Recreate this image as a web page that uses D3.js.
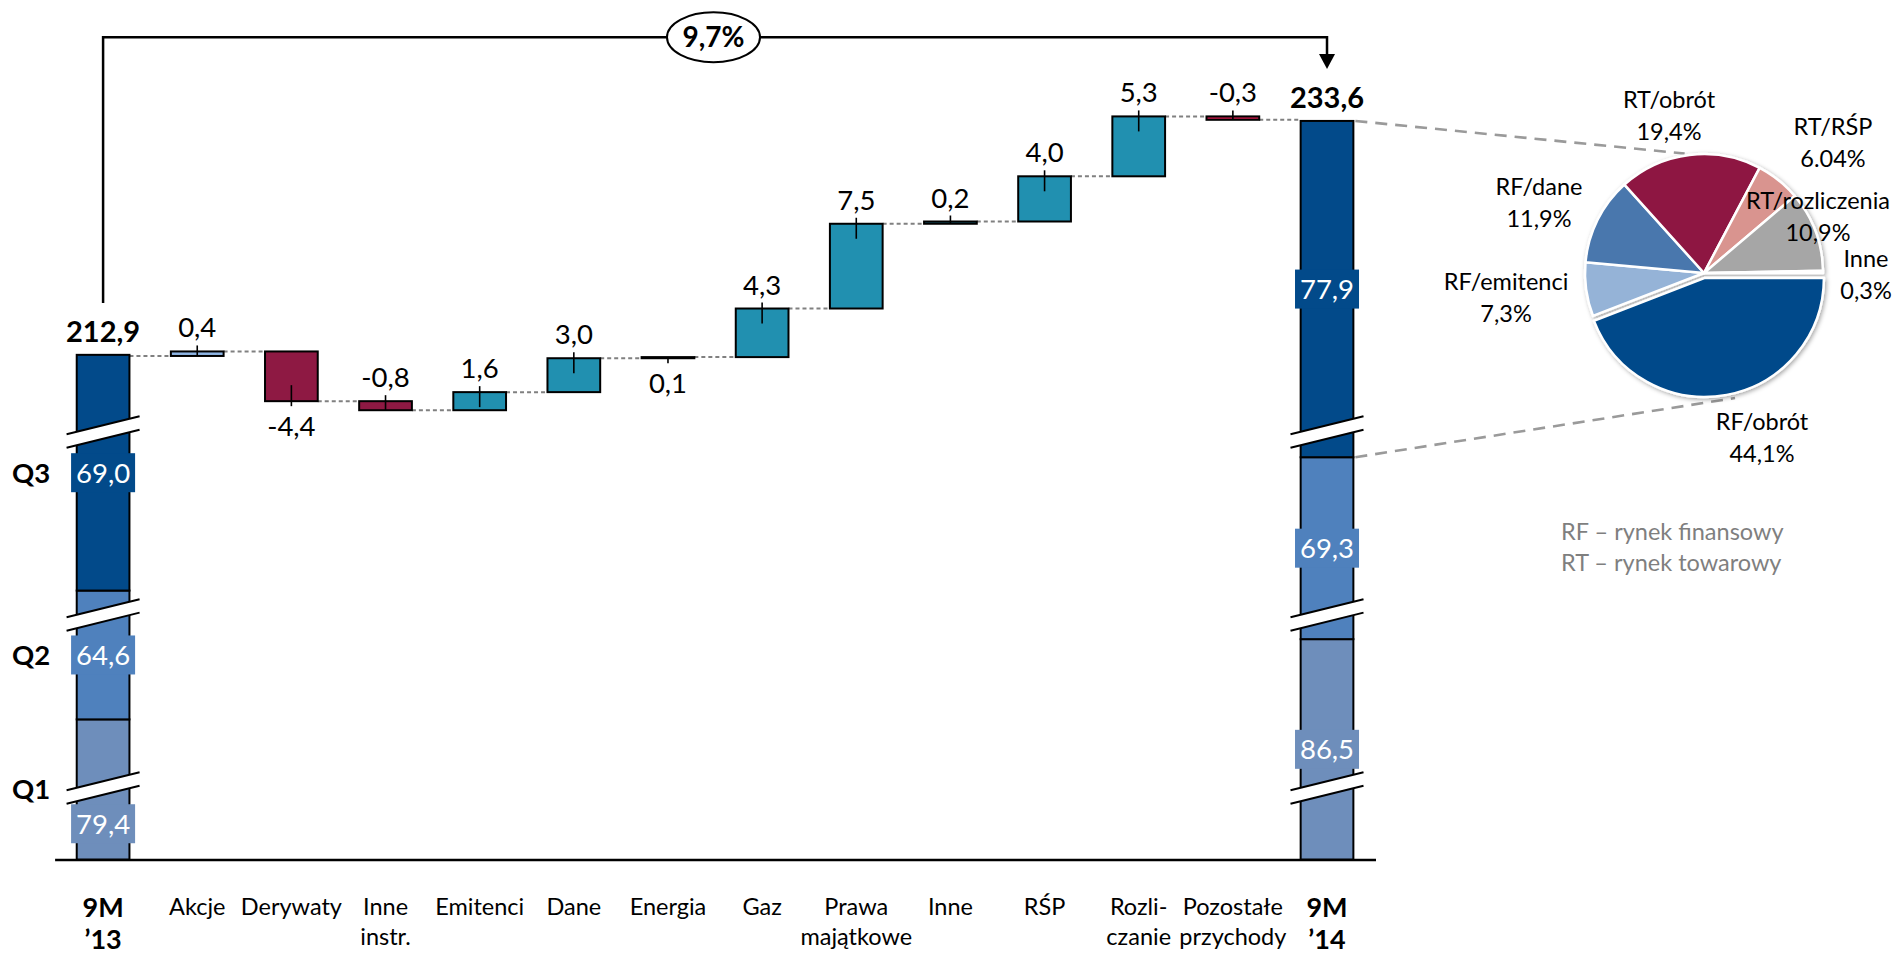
<!DOCTYPE html>
<html>
<head>
<meta charset="utf-8">
<script src="https://cdn.jsdelivr.net/npm/d3@7"></script>
<style>
  html, body { margin: 0; padding: 0; background: #fff; }
  svg { display: block; font-family: Lato, "Open Sans", "DejaVu Sans", sans-serif; }
</style>
</head>
<body>
<svg id="chart" width="1897" height="957"></svg>
<script>
// ---- data ---------------------------------------------------------------
// x-axis categories (line breaks split the label into rows)
const categories = ["9M\n’13", "Akcje", "Derywaty", "Inne\ninstr.", "Emitenci", "Dane", "Energia",
  "Gaz", "Prawa\nmajątkowe", "Inne", "RŚP", "Rozli-\nczanie", "Pozostałe\nprzychody", "9M\n’14"];

// year-on-year change of revenue per line of business (PLN m)
const deltaValues = [0.4, -4.4, -0.8, 1.6, 3.0, 0.1, 4.3, 7.5, 0.2, 4.0, 5.3, -0.3];
const deltaLabelSide = ["above", "below", "above", "above", "above", "below", "above",
  "above", "above", "above", "above", "above"];
const deltaColors = ["#8EB4E3", "#8E1943", "#8E1943", "#2190B0", "#2190B0", "#2190B0", "#2190B0",
  "#2190B0", "#2190B0", "#2190B0", "#2190B0", "#C21A48"];

// nine-month totals and their quarterly split
const totals = [212.9, 233.6];
const quarterNames = ["Q1", "Q2", "Q3"];
const quarters2013 = [79.4, 64.6, 69.0];
const quarters2014 = [86.5, 69.3, 77.9];
const quarterColors = ["#6E8EBB", "#4F81BD", "#024A8A"];

// amount of each quarter hidden by the axis break, and where the break marks sit
const breakCuts = [67.0, 53.2, 48.14];
const breakLevels = [6.33, 21.64, 37.83];

// revenue structure 9M '14
const pieNames = ["RF/obrót", "RF/emitenci", "RF/dane", "RT/obrót", "RT/RŚP", "RT/rozliczenia", "Inne"];
const pieValues = [44.1, 7.3, 11.9, 19.4, 6.04, 10.9, 0.3];
const pieValueLabels = ["44,1%", "7,3%", "11,9%", "19,4%", "6.04%", "10,9%", "0,3%"];
const pieColors = ["#024A8A", "#95B3D7", "#4A77AD", "#8E1742", "#D9948F", "#A6A6A6", "#D9D9D9"];

const legendLines = ["RF – rynek finansowy", "RT – rynek towarowy"];

// ---- setup ----------------------------------------------------------------
const svg = d3.select("#chart");
const fmt = d3.formatLocale({ decimal: ",", thousands: "\u00a0", grouping: [3], currency: ["", ""], minus: "-" });
const f1 = fmt.format(".1f");

const baselineY = 859.5;
const unitPx = 11.3;
const cutTotal = d3.sum(breakCuts);

const x = d3.scaleBand().domain(categories).range([54.6, 1375.5]).paddingInner(0.44).paddingOuter(0.235);
const bw = x.bandwidth();
const cx = c => x(c) + bw / 2;

// display scale (after removing the broken parts of the axis)
const y = d3.scaleLinear().domain([0, 70]).range([baselineY, baselineY - 70 * unitPx]);
const yv = v => y(v - cutTotal);

const first = categories[0], last = categories[categories.length - 1];

// ---- axis -----------------------------------------------------------------
const axis = svg.append("g")
  .attr("transform", `translate(0,${baselineY})`)
  .call(d3.axisBottom(x).tickSize(0).tickSizeOuter(0).tickFormat(""));
axis.select(".domain").attr("stroke", "#000").attr("stroke-width", 2.5);

categories.forEach((c, i) => {
  const isEnd = i === 0 || i === categories.length - 1;
  const lines = c.split("\n");
  const t = svg.append("text")
    .attr("text-anchor", "middle")
    .attr("font-size", isEnd ? 27 : 23.5)
    .attr("font-weight", isEnd ? 700 : 400)
    .attr("fill", "#000");
  lines.forEach((ln, j) => {
    t.append("tspan").attr("x", cx(c))
      .attr("y", (isEnd ? 917 : 915) + j * (isEnd ? 32 : 30))
      .text(ln);
  });
});

// ---- waterfall connectors and floating bars --------------------------------
const steps = [];
let running = totals[0];
deltaValues.forEach((d, i) => {
  const start = running;
  running = running + d;
  steps.push({ cat: categories[i + 1], start, end: running, value: d, side: deltaLabelSide[i], color: deltaColors[i] });
});

// dashed level lines between neighbouring bars
const levels = [{ cat: first, level: totals[0] }].concat(steps.map(s => ({ cat: s.cat, level: s.end })));
const conn = svg.append("g").attr("stroke", "#808080").attr("stroke-width", 2).attr("stroke-dasharray", "4,3");
levels.forEach((l, i) => {
  const nextCat = i < levels.length - 1 ? levels[i + 1].cat : last;
  conn.append("line")
    .attr("x1", x(l.cat) + bw).attr("x2", x(nextCat))
    .attr("y1", yv(l.level)).attr("y2", yv(l.level));
});

svg.append("g").selectAll("rect").data(steps).join("rect")
  .attr("x", d => x(d.cat))
  .attr("width", bw)
  .attr("y", d => yv(Math.max(d.start, d.end)))
  .attr("height", d => Math.abs(yv(d.start) - yv(d.end)))
  .attr("fill", d => d.color)
  .attr("stroke", "#000")
  .attr("stroke-width", 2);

// leader ticks and value labels
const lead = svg.append("g").attr("stroke", "#000").attr("stroke-width", 1.6);
steps.forEach(s => {
  const top = yv(Math.max(s.start, s.end));
  const bot = yv(Math.min(s.start, s.end));
  const c = cx(s.cat);
  if (s.side === "above") {
    lead.append("line").attr("x1", c).attr("x2", c).attr("y1", top - 6).attr("y2", Math.min(top + 15, bot));
    svg.append("text").attr("x", c).attr("y", top - 14).attr("text-anchor", "middle")
      .attr("font-size", 27.5).text(f1(s.value));
  } else {
    lead.append("line").attr("x1", c).attr("x2", c).attr("y1", bot + 5).attr("y2", Math.max(bot - 16, top));
    svg.append("text").attr("x", c).attr("y", bot + 35).attr("text-anchor", "middle")
      .attr("font-size", 27.5).text(f1(s.value));
  }
});

// ---- broken stacked totals -------------------------------------------------
function drawTotal(cat, quarters, total, withQNames) {
  const g = svg.append("g");
  const c = cx(cat);
  let cum = 0, cut = 0;
  const segs = quarters.map((q, i) => {
    const lo = cum - cut;
    cum += q;
    cut += breakCuts[i];
    const hi = cum - cut;
    return { lo, hi, q, i };
  });
  g.selectAll("rect.seg").data(segs).join("rect")
    .attr("class", "seg")
    .attr("x", x(cat)).attr("width", bw)
    .attr("y", d => y(d.hi)).attr("height", d => y(d.lo) - y(d.hi))
    .attr("fill", d => quarterColors[d.i])
    .attr("stroke", "#000").attr("stroke-width", 2);

  // break marks
  const slope = -0.247, half = 36.5, gap = 6.7;
  breakLevels.forEach(b => {
    const yc = y(b);
    const yAt = (dx, off) => yc + slope * dx + off;
    g.append("polygon")
      .attr("points", [[c - half, yAt(-half, -gap)], [c + half, yAt(half, -gap)],
        [c + half, yAt(half, gap)], [c - half, yAt(-half, gap)]].map(p => p.join(",")).join(" "))
      .attr("fill", "#fff");
    [-gap, gap].forEach(off => {
      g.append("line")
        .attr("x1", c - half).attr("y1", yAt(-half, off))
        .attr("x2", c + half).attr("y2", yAt(half, off))
        .attr("stroke", "#000").attr("stroke-width", 2);
    });
  });

  // value boxes
  segs.forEach(s => {
    let yc = (y(s.lo) + y(s.hi)) / 2;
    const by = y(breakLevels[s.i]);
    if (Math.abs(yc - by) < 36) yc = (by + y(s.lo)) / 2;
    g.append("rect").attr("x", c - 32).attr("y", yc - 19.5).attr("width", 64).attr("height", 39)
      .attr("fill", quarterColors[s.i]);
    g.append("text").attr("x", c).attr("y", yc + 10).attr("text-anchor", "middle")
      .attr("font-size", 27.5).attr("fill", "#fff").text(f1(s.q));
    if (withQNames) {
      svg.append("text").attr("x", 12).attr("y", (y(s.lo) + y(s.hi)) / 2 + 10)
        .attr("font-size", 27.5).attr("font-weight", 700).text(quarterNames[s.i]);
    }
  });

  // total label
  svg.append("text").attr("x", c).attr("y", yv(total) - 14).attr("text-anchor", "middle")
    .attr("font-size", 29).attr("font-weight", 700).text(f1(total));
  return segs;
}
drawTotal(first, quarters2013, totals[0], true);
const segs14 = drawTotal(last, quarters2014, totals[1], false);

// ---- growth bracket --------------------------------------------------------
const bracketY = 37.3;
const xl = cx(first), xr = cx(last);
const leftEnd = yv(totals[0]) - 14 - 39;
const arrowTip = yv(totals[1]) - 14 - 39;
svg.append("path")
  .attr("d", `M${xl},${leftEnd}V${bracketY}H${xr}V${arrowTip - 12}`)
  .attr("fill", "none").attr("stroke", "#000").attr("stroke-width", 2.5);
svg.append("polygon")
  .attr("points", `${xr},${arrowTip} ${xr - 8},${arrowTip - 15} ${xr + 8},${arrowTip - 15}`)
  .attr("fill", "#000");
const growth = (totals[1] / totals[0] - 1) * 100;
svg.append("ellipse").attr("cx", 713.5).attr("cy", bracketY).attr("rx", 46.5).attr("ry", 25)
  .attr("fill", "#fff").attr("stroke", "#000").attr("stroke-width", 2);
svg.append("text").attr("x", 713.5).attr("y", bracketY + 10).attr("text-anchor", "middle")
  .attr("font-size", 28).attr("font-weight", 700).text(fmt.format(".1f")(growth) + "%");

// ---- pie: structure of 9M '14 ---------------------------------------------
const pc = [1704, 273], pr = 119;
const pie = d3.pie().sort(null).value(d => d).startAngle(Math.PI / 2).endAngle(Math.PI / 2 + 2 * Math.PI);
const arcs = pie(pieValues);
const arc = d3.arc().innerRadius(0).outerRadius(pr);

// dashed zoom lines from the Q3 segment to the pie
const zoomG = svg.append("g").attr("stroke", "#9A9A9A").attr("stroke-width", 2.6).attr("stroke-dasharray", "12,8");
const polar = (a, r, off) => [pc[0] + r * Math.sin(a), pc[1] + (off || 0) - r * Math.cos(a)];
const q3 = segs14[2];
const p1 = polar(-9.2 * Math.PI / 180, pr + 2);
const p2 = polar(165.5 * Math.PI / 180, pr + 5, 5);
zoomG.append("line").attr("x1", x(last) + bw + 2).attr("y1", y(q3.hi)).attr("x2", p1[0]).attr("y2", p1[1]);
zoomG.append("line").attr("x1", x(last) + bw + 2).attr("y1", y(q3.lo)).attr("x2", p2[0]).attr("y2", p2[1]);

const defs = svg.append("defs");
const flt = defs.append("filter").attr("id", "pieShadow").attr("x", "-20%").attr("y", "-20%").attr("width", "140%").attr("height", "140%");
flt.append("feDropShadow").attr("dx", 1.5).attr("dy", 1.5).attr("stdDeviation", 2)
  .attr("flood-color", "#000").attr("flood-opacity", 0.35);

const pieG = svg.append("g").attr("transform", `translate(${pc[0]},${pc[1]})`).attr("filter", "url(#pieShadow)");
pieG.selectAll("path").data(arcs).join("path")
  .attr("d", arc)
  .attr("transform", (d, i) => {
    if (i !== 0) return null;
    const m = (d.startAngle + d.endAngle) / 2;
    return `translate(${5 * Math.sin(m)},${-5 * Math.cos(m)})`;
  })
  .attr("fill", (d, i) => pieColors[i])
  .attr("stroke", "#fff").attr("stroke-width", 2.5).attr("stroke-linejoin", "round");

// slice labels: offsets of the first text row from the pie centre
const pieLabelOffsets = [[58, 157], [-198, 17], [-165, -78], [-35, -165], [129, -138], [114, -64], [162, -6]];
pieNames.forEach((n, i) => {
  const [dx, dy] = pieLabelOffsets[i];
  const t = svg.append("text").attr("text-anchor", "middle").attr("font-size", 23.5).attr("fill", "#000");
  t.append("tspan").attr("x", pc[0] + dx).attr("y", pc[1] + dy).text(n);
  t.append("tspan").attr("x", pc[0] + dx).attr("y", pc[1] + dy + 32).text(pieValueLabels[i]);
});

// legend of abbreviations
legendLines.forEach((l, i) => {
  svg.append("text").attr("x", 1561).attr("y", 540 + i * 31)
    .attr("font-size", 23.5).attr("fill", "#7F7F7F").text(l);
});
</script>
</body>
</html>
